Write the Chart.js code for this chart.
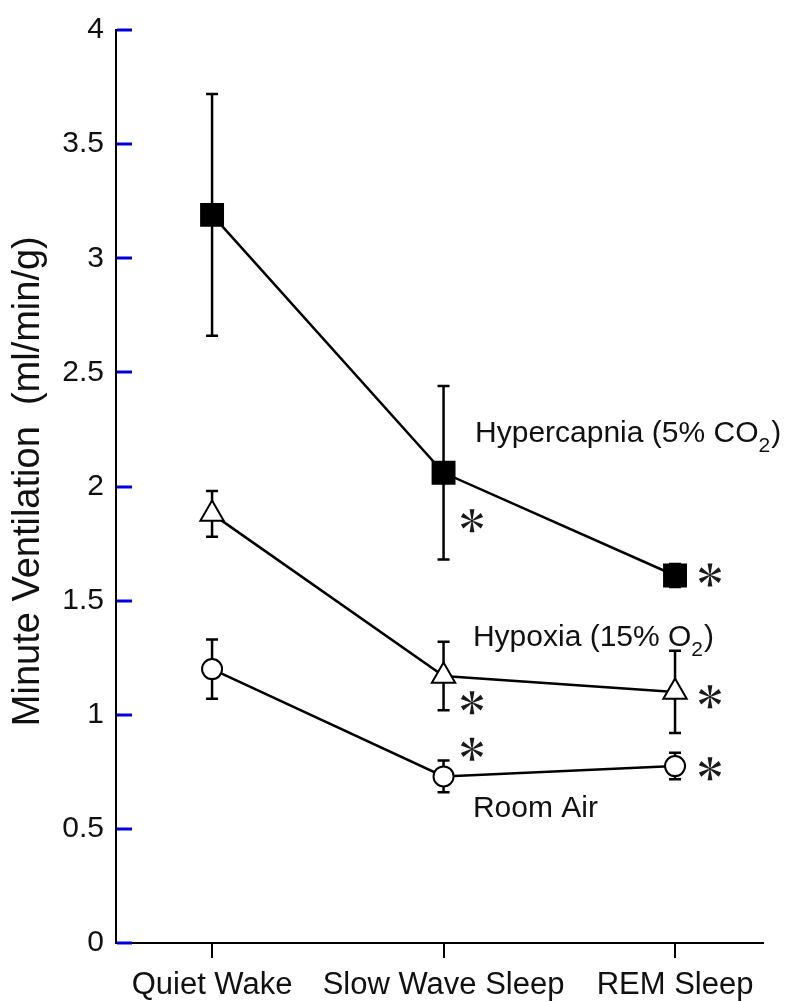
<!DOCTYPE html>
<html>
<head>
<meta charset="utf-8">
<script src="https://cdn.jsdelivr.net/npm/chart.js@4.4.0/dist/chart.umd.min.js"></script>
<style>
  html, body { margin: 0; padding: 0; background: #fff; }
  canvas { display: block; }
</style>
</head>
<body>
<canvas id="ventChart" width="791" height="1002"></canvas>
<script>
// sleep states on the x axis
const states = ['Quiet Wake', 'Slow Wave Sleep', 'REM Sleep'];

// minute ventilation (ml/min/g), mean and error
const hypercapnia = [3.19, 2.06, 1.61];
const hypercapniaErr = [0.53, 0.38, 0.05];
const hypoxia = [1.88, 1.17, 1.10];
const hypoxiaErr = [0.10, 0.15, 0.18];
const roomAir = [1.20, 0.73, 0.775];
const roomAirErr = [0.13, 0.07, 0.058];

const yTicks = [0, 0.5, 1, 1.5, 2, 2.5, 3, 3.5, 4];

// significance marks: [state index offset, value]
const asterisks = [
  [1.123, 1.85], [1.123, 1.053], [1.123, 0.849],
  [2.151, 1.612], [2.151, 1.079], [2.151, 0.763]
];

// series name labels, written next to the lines (parts after '_' are subscripts)
const seriesLabels = [
  { parts: ['Hypercapnia (5% CO', '_2', ')'], x: 1.136, y: 2.193 },
  { parts: ['Hypoxia (15% O', '_2', ')'], x: 1.127, y: 1.30 },
  { parts: ['Room Air'], x: 1.127, y: 0.55 }
];

const FONT = '"Liberation Sans", Arial, sans-serif';

function toPoints(values) {
  return values.map((v, i) => ({ x: i, y: v }));
}

// error bars drawn under the markers
const errorBars = {
  id: 'errorBars',
  beforeDatasetsDraw(chart) {
    const { ctx, scales: { x, y } } = chart;
    ctx.save();
    ctx.strokeStyle = '#000';
    ctx.lineWidth = 2.5;
    chart.data.datasets.forEach(ds => {
      ds.data.forEach((pt, i) => {
        const px = x.getPixelForValue(pt.x);
        const top = y.getPixelForValue(pt.y + ds.err[i]);
        const bot = y.getPixelForValue(pt.y - ds.err[i]);
        ctx.beginPath();
        ctx.moveTo(px, top); ctx.lineTo(px, bot);
        ctx.moveTo(px - 6, top); ctx.lineTo(px + 6, top);
        ctx.moveTo(px - 6, bot); ctx.lineTo(px + 6, bot);
        ctx.stroke();
      });
    });
    ctx.restore();
  }
};

// blue tick marks pointing into the plot
const innerTicks = {
  id: 'innerTicks',
  afterDraw(chart) {
    const { ctx, scales: { y }, chartArea } = chart;
    ctx.save();
    ctx.strokeStyle = '#0000dd';
    ctx.lineWidth = 3;
    y.ticks.forEach(t => {
      const py = Math.round(y.getPixelForValue(t.value));
      ctx.beginPath();
      ctx.moveTo(chartArea.left + 1, py);
      ctx.lineTo(chartArea.left + 16, py);
      ctx.stroke();
    });
    ctx.restore();
  }
};

function drawAsterisk(ctx, cx, cy) {
  const len = 11.5;
  ctx.fillStyle = '#1a1a1a';
  for (let k = 0; k < 6; k++) {
    const a = k * Math.PI / 3 - Math.PI / 2;
    const ux = Math.cos(a), uy = Math.sin(a);
    const nx = -uy, ny = ux;
    ctx.beginPath();
    ctx.moveTo(cx + ux * 1.5 + nx * 0.7, cy + uy * 1.5 + ny * 0.7);
    ctx.lineTo(cx + ux * len + nx * 2.4, cy + uy * len + ny * 2.4);
    ctx.lineTo(cx + ux * len - nx * 2.4, cy + uy * len - ny * 2.4);
    ctx.lineTo(cx + ux * 1.5 - nx * 0.7, cy + uy * 1.5 - ny * 0.7);
    ctx.closePath();
    ctx.fill();
  }
  ctx.beginPath();
  ctx.arc(cx, cy, 1.5, 0, Math.PI * 2);
  ctx.fill();
}

const annotations = {
  id: 'annotations',
  afterDatasetsDraw(chart) {
    const { ctx, scales: { x, y } } = chart;
    ctx.save();
    ctx.fillStyle = '#111';
    ctx.textBaseline = 'alphabetic';
    ctx.textAlign = 'left';
    seriesLabels.forEach(lab => {
      let px = x.getPixelForValue(lab.x);
      const py = y.getPixelForValue(lab.y);
      lab.parts.forEach(p => {
        if (p.startsWith('_')) {
          ctx.font = '21px ' + FONT;
          ctx.fillText(p.slice(1), px, py + 10);
          px += ctx.measureText(p.slice(1)).width + 1;
        } else {
          ctx.font = '30px ' + FONT;
          ctx.fillText(p, px, py);
          px += ctx.measureText(p).width;
        }
      });
    });
    asterisks.forEach(([ax, ay]) => {
      drawAsterisk(ctx, x.getPixelForValue(ax), y.getPixelForValue(ay));
    });
    ctx.restore();
  }
};

function series(values, err, style, radius, fill) {
  return {
    data: toPoints(values),
    err: err,
    borderColor: '#000',
    borderWidth: 2.5,
    pointStyle: style,
    pointRadius: radius,
    pointBackgroundColor: fill,
    pointBorderColor: '#000',
    pointBorderWidth: 2,
    tension: 0,
    fill: false
  };
}

const ventChart = new Chart(document.getElementById('ventChart'), {
  type: 'line',
  data: {
    datasets: [
      series(hypercapnia, hypercapniaErr, 'rect', 15.5, '#000'),
      series(hypoxia, hypoxiaErr, 'triangle', 13.5, '#fff'),
      series(roomAir, roomAirErr, 'circle', 10, '#fff')
    ]
  },
  options: {
    responsive: false,
    animation: false,
    events: [],
    layout: { padding: { top: 20, right: 28, left: 0, bottom: 0 } },
    plugins: { legend: { display: false }, tooltip: { enabled: false } },
    scales: {
      x: {
        type: 'linear',
        min: -0.415,
        max: 2.38,
        afterBuildTicks: s => { s.ticks = states.map((_, i) => ({ value: i })); },
        afterFit: s => { s.height = 59; },
        grid: { drawOnChartArea: false, drawTicks: true, tickLength: 15, color: '#000', lineWidth: 2 },
        border: { color: '#000', width: 2 },
        ticks: {
          padding: 9,
          color: '#111',
          font: { family: FONT, size: 31 },
          callback: v => states[v]
        }
      },
      y: {
        min: 0,
        max: 4,
        afterBuildTicks: s => { s.ticks = yTicks.map(v => ({ value: v })); },
        afterFit: s => { s.width = 116; },
        grid: { drawOnChartArea: false, drawTicks: false },
        border: { color: '#000', width: 2 },
        ticks: {
          padding: 12,
          color: '#111',
          font: { family: FONT, size: 30 },
          callback: v => String(v)
        },
        title: {
          display: true,
          text: ' Minute Ventilation  (ml/min/g)',
          color: '#111',
          font: { family: FONT, size: 38, lineHeight: 1 },
          padding: { top: 10 }
        }
      }
    }
  },
  plugins: [errorBars, innerTicks, annotations]
});
</script>
</body>
</html>
